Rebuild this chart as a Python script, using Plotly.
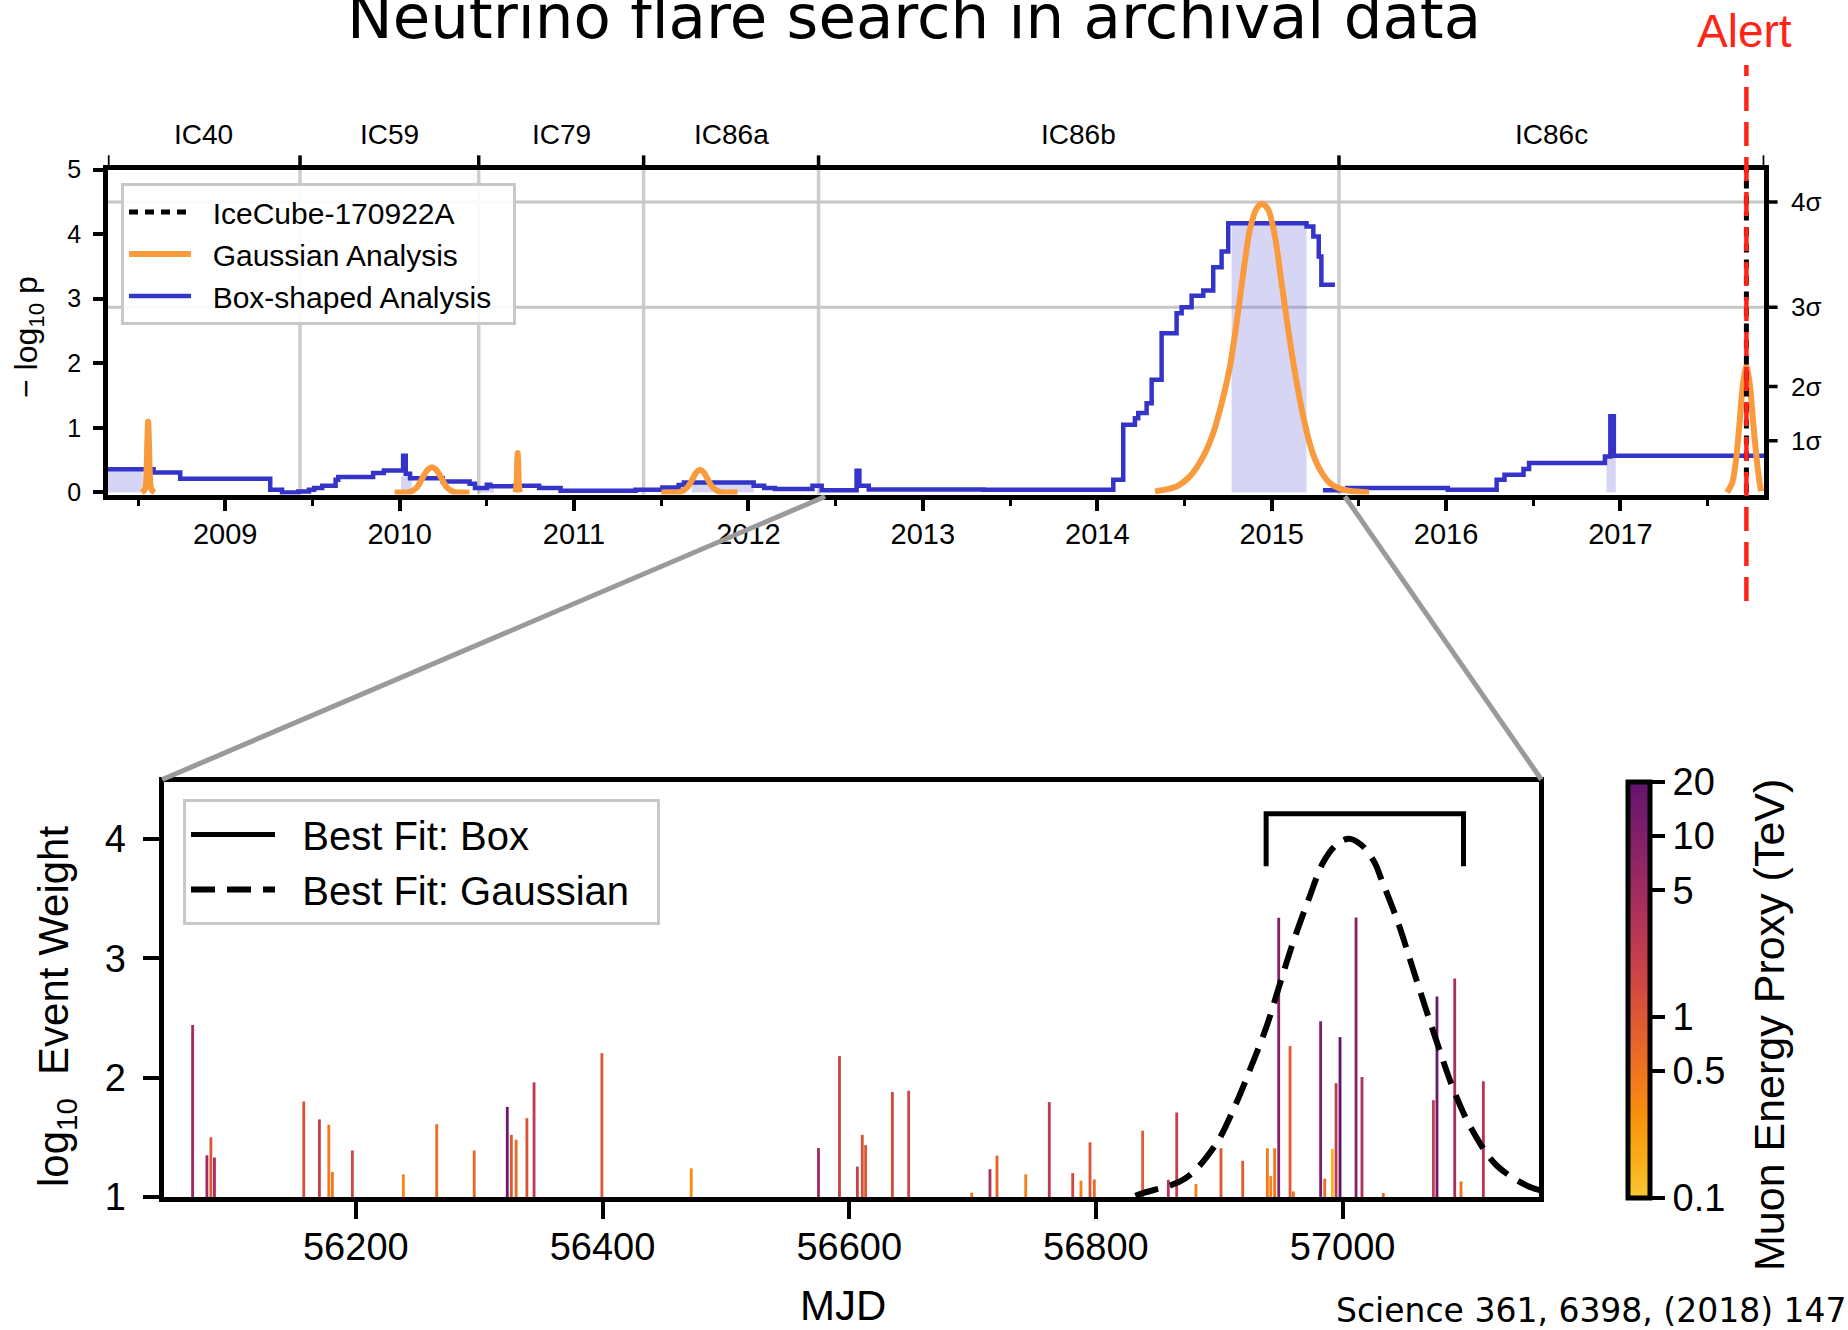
import numpy as np
import plotly.graph_objects as go

W, H = 1848, 1330
FONT = "Liberation Sans, Arial, Helvetica, sans-serif"
SLIDE_FONT = "DejaVu Sans, Verdana, sans-serif"
NB = "\u00a0"

# ------------------------------------------------------------------ top panel
# detector seasons (decimal year edges) and their names
season_edges = [2008.327, 2009.429, 2010.4535, 2011.399, 2012.402, 2015.386, 2017.825]
season_names = ["IC40", "IC59", "IC79", "IC86a", "IC86b", "IC86c"]
year_ticks = [2009, 2010, 2011, 2012, 2013, 2014, 2015, 2016, 2017]

# box-shaped time-window search: -log10 p as a step function of time
box_year_a = [2008.327, 2008.589, 2008.742, 2009.258, 2009.326, 2009.418, 2009.480, 2009.510,
              2009.556, 2009.633, 2009.648, 2009.848, 2009.910, 2010.020, 2010.035, 2010.060,
              2010.247, 2010.401, 2010.432, 2010.500, 2010.520, 2010.662, 2010.800, 2010.923,
              2011.353, 2011.507, 2011.600, 2011.630, 2012.030, 2012.090, 2012.152, 2012.367,
              2012.420, 2012.620, 2012.636, 2012.690, 2013.350, 2014.092, 2014.149, 2014.216,
              2014.235, 2014.283, 2014.312, 2014.369, 2014.455, 2014.484, 2014.541, 2014.608,
              2014.665, 2014.713, 2014.751, 2015.200, 2015.239, 2015.270, 2015.285, 2015.363]
box_logp_a = [0.36, 0.31, 0.21, 0.04, 0.00, 0.016, 0.04, 0.068,
              0.104, 0.197, 0.238, 0.30, 0.341, 0.57, 0.29, 0.22,
              0.17, 0.135, 0.07, 0.12, 0.094, 0.104, 0.068, 0.026,
              0.04, 0.078, 0.114, 0.155, 0.104, 0.068, 0.052, 0.104,
              0.032, 0.336, 0.104, 0.045, 0.04, 0.197, 1.048, 1.15,
              1.229, 1.383, 1.745, 2.467, 2.776, 2.870, 3.045, 3.128,
              3.489, 3.731, 4.170, 4.118, 3.963, 3.654, 3.215, 3.215]
box_year_b = [2015.294, 2015.434, 2016.010, 2016.290, 2016.335, 2016.444, 2016.476,
              2016.911, 2016.942, 2016.962, 2017.825]
box_logp_b = [0.032, 0.068, 0.042, 0.197, 0.274, 0.362, 0.455,
              0.558, 1.18, 0.568, 0.568]

# best-fit box windows (shaded)
win_start = [2008.327, 2010.008, 2010.447, 2011.675, 2014.770, 2016.920]
win_end = [2008.527, 2010.070, 2010.540, 2012.030, 2015.200, 2016.973]
win_logp = [0.36, 0.25, 0.08, 0.155, 4.17, 0.57]

# gaussian time-window search: one curve per candidate flare (None separates flares)
gauss_year = [2008.521, 2008.540, 2008.549, 2008.553, 2008.558, 2008.563, 2008.567, 2008.576, 2008.595, None,
              2009.971, 2010.06, 2010.10, 2010.13, 2010.16, 2010.186, 2010.21, 2010.24, 2010.27, 2010.31, 2010.401, None,
              2010.665, 2010.671, 2010.674, 2010.677, 2010.680, 2010.683, 2010.689, None,
              2011.501, 2011.61, 2011.65, 2011.68, 2011.70, 2011.722, 2011.745, 2011.765, 2011.795, 2011.835, 2011.937, None,
              2014.331, 2014.455, 2014.531, 2014.608, 2014.665, 2014.723, 2014.761, 2014.799, 2014.837, 2014.875,
              2014.914, 2014.946, 2014.981, 2015.019, 2015.057, 2015.095, 2015.134, 2015.181, 2015.229, 2015.277,
              2015.334, 2015.411, 2015.559, None,
              2017.612, 2017.642, 2017.662, 2017.682, 2017.702, 2017.722, 2017.742, 2017.762, 2017.782, 2017.795, 2017.806]
gauss_logp = [0.0, 0.05, 0.35, 0.75, 1.10, 0.75, 0.35, 0.05, 0.0, None,
              0.0, 0.01, 0.08, 0.22, 0.35, 0.39, 0.35, 0.22, 0.08, 0.01, 0.0, None,
              0.0, 0.15, 0.45, 0.61, 0.45, 0.15, 0.0, None,
              0.0, 0.01, 0.08, 0.21, 0.31, 0.35, 0.31, 0.21, 0.08, 0.01, 0.0, None,
              0.016, 0.093, 0.248, 0.558, 0.919, 1.487, 1.951, 2.622, 3.396, 4.067,
              4.40, 4.47, 4.376, 3.964, 3.241, 2.519, 1.848, 1.177, 0.661, 0.352,
              0.145, 0.042, 0.0, None,
              0.0, 0.16, 0.49, 1.05, 1.67, 1.95, 1.67, 1.05, 0.49, 0.2, 0.02]

alert_year = 2017.722
sigma_logp = [0.80, 1.64, 2.87, 4.50]
sigma_text = ["1σ", "2σ", "3σ", "4σ"]
sigma_grid = [2.87, 4.50]
zoom_top_years = [2012.44, 2015.42]

# --------------------------------------------------------------- bottom panel
ev_mjd = [56067.7, 56079.3, 56082.5, 56085.4, 56157.8, 56170.5, 56178.1, 56181.0, 56197.2, 56238.5,
          56265.6, 56296.0, 56322.8, 56326.1, 56330.0, 56338.7, 56344.5, 56399.5, 56471.9, 56575.1,
          56592.1, 56606.6, 56610.6, 56613.3, 56635.0, 56648.2, 56699.3, 56714.1, 56719.8, 56743.1,
          56762.2, 56781.2, 56787.9, 56795.2, 56798.7, 56837.9, 56858.7, 56865.5, 56881.1, 56901.4,
          56919.0, 56939.0, 56941.7, 56944.9, 56948.2, 56957.4, 56960.1, 56982.2, 56985.5, 56991.7,
          56994.7, 56997.9, 57010.9, 57015.7, 57033.0, 57073.6, 57076.5, 57090.9, 57096.0, 57114.1]
ev_logw = [2.44, 1.35, 1.50, 1.33, 1.80, 1.65, 1.605, 1.21, 1.39, 1.19,
           1.61, 1.39, 1.755, 1.52, 1.48, 1.66, 1.96, 2.205, 1.24, 1.41,
           2.18, 1.255, 1.52, 1.435, 1.88, 1.89, 1.036, 1.233, 1.347, 1.19,
           1.795, 1.20, 1.136, 1.458, 1.147, 1.555, 1.144, 1.708, 1.108, 1.408,
           1.303, 1.408, 1.175, 1.408, 3.339, 2.264, 1.047, 2.472, 1.153, 1.403,
           1.953, 2.339, 3.341, 2.005, 1.033, 1.811, 2.680, 2.830, 1.130, 1.969]
ev_energy_tev = [5, 5, 1.0, 4, 1.2, 2.0, 0.45, 0.45, 1.6, 0.35,
                 0.6, 0.7, 15, 1.0, 0.6, 1.1, 2.5, 1.0, 0.3, 5,
                 1.8, 2.0, 1.2, 1.0, 1.3, 1.5, 0.5, 3.5, 0.8, 0.4,
                 2.5, 1.5, 0.4, 1.0, 0.6, 0.9, 3.0, 2.0, 0.4, 1.0,
                 0.9, 0.45, 0.35, 0.5, 9, 0.9, 0.5, 12, 0.6, 0.15,
                 2.5, 20, 9, 3.5, 0.6, 2.0, 15, 4, 0.5, 3.0]

# best-fit gaussian flare (dashed) and best-fit box window (bracket)
gfit_mjd = [56832, 56838, 56872, 56896.5, 56912.8, 56925, 56938.4, 56949.3, 56960.1, 56972.2,
            56984.4, 56995, 57005, 57015, 57026, 57031.7, 57045.2, 57056, 57066.8, 57078.4,
            57089.8, 57104.6, 57124.9, 57151.9, 57161]
gfit_logw = [1.01, 1.033, 1.152, 1.43, 1.764, 2.07, 2.43, 2.79, 3.14, 3.486,
             3.805, 3.95, 4.0, 3.95, 3.80, 3.653, 3.292, 2.944, 2.597, 2.236,
             1.903, 1.569, 1.264, 1.083, 1.055]
boxfit_mjd = [56938, 56938, 57098, 57098]
boxfit_logw = [3.77, 4.21, 4.21, 3.77]

zoom_mjd_range = [56044.7, 57159.5]
mjd_ticks = [56200, 56400, 56600, 56800, 57000]
zoom_year_ticks = [2012.5, 2013.0, 2013.5, 2014.0, 2014.5, 2015.0]
energy_ticks = [0.1, 0.5, 1, 5, 10, 20]

# ------------------------------------------------------------------- helpers
def px_x(p):
    return p / W


def px_y(p):
    return 1 - p / H


def year_to_mjd(y):
    return 51544.5 + (y - 2000.0) * 365.25


INFERNO = ['#000004', '#1b0c41', '#4a0c6b', '#781c6d', '#a52c60',
           '#cf4446', '#ed6925', '#fb9b06', '#f7d13d', '#fcffa4']


def inferno_at(f):
    pos = f * (len(INFERNO) - 1)
    i = min(int(pos), len(INFERNO) - 2)
    t = pos - i
    c0 = [int(INFERNO[i][k:k + 2], 16) for k in (1, 3, 5)]
    c1 = [int(INFERNO[i + 1][k:k + 2], 16) for k in (1, 3, 5)]
    return 'rgb(%d,%d,%d)' % tuple(round(a + (b - a) * t) for a, b in zip(c0, c1))


# truncated, reversed inferno: yellow at low energy, dark purple at high energy
energy_scale = [[s, inferno_at(0.87 - 0.59 * s)] for s in np.linspace(0, 1, 11)]

# plot-area geometry in pixels
TOP = dict(l=107.85, r=1764.35, t=169.6, b=494.5)
BOT = dict(l=164.25, r=1539.35, t=781.5, b=1197.0)
LW = 4.5
top_range = [season_edges[0], season_edges[-1]]
top_yrange = [-0.032, 5.0]
top_w = TOP['r'] - TOP['l']
top_h = TOP['b'] - TOP['t']

BLUE = '#3434c8'
ORANGE = '#f99a3c'
SHADE = 'rgba(120,115,220,0.30)'
RED = '#ff2418'

fig = go.Figure()

# shaded best-fit box windows
shade_x, shade_y = [], []
for s, e, v in zip(win_start, win_end, win_logp):
    shade_x += [s, s, e, e, s, None]
    shade_y += [0, v, v, 0, 0, None]
fig.add_trace(go.Scatter(x=shade_x, y=shade_y, mode='lines', fill='toself', fillcolor=SHADE,
                         line=dict(width=0), hoverinfo='skip', showlegend=False,
                         xaxis='x', yaxis='y'))

fig.add_trace(go.Scatter(x=box_year_a + [None] + box_year_b, y=box_logp_a + [None] + box_logp_b,
                         mode='lines', line=dict(color=BLUE, width=4.5, shape='hv'),
                         name=NB * 2 + 'Box-shaped Analysis' + NB * 2, legend='legend', legendrank=3,
                         xaxis='x', yaxis='y'))

fig.add_trace(go.Scatter(x=gauss_year, y=gauss_logp, mode='lines',
                         line=dict(color=ORANGE, width=6, shape='spline', smoothing=0.8),
                         name=NB * 2 + 'Gaussian Analysis', legend='legend', legendrank=2,
                         xaxis='x', yaxis='y'))

fig.add_trace(go.Scatter(x=[alert_year, alert_year], y=[0, 5.0], mode='lines',
                         line=dict(color='black', width=5, dash='9px,7px'),
                         name=NB * 2 + 'IceCube-170922A', legend='legend', legendrank=1,
                         xaxis='x', yaxis='y'))

# event weights coloured by muon energy proxy
fig.add_trace(go.Bar(x=ev_mjd, y=[w - 1 for w in ev_logw], base=1, width=2.3,
                     marker=dict(color=np.log10(ev_energy_tev), colorscale=energy_scale,
                                 cmin=np.log10(0.1), cmax=np.log10(20), line=dict(width=0),
                                 colorbar=dict(
                                     x=px_x(1628), xanchor='left', xpad=0,
                                     y=px_y(989.5), yanchor='middle', ypad=0,
                                     thicknessmode='pixels', thickness=22,
                                     lenmode='pixels', len=416,
                                     outlinewidth=5, outlinecolor='black',
                                     tickvals=np.log10(energy_ticks),
                                     ticktext=[('%g' % e) for e in energy_ticks],
                                     ticks='outside', ticklen=13, tickwidth=4, tickcolor='black',
                                     tickfont=dict(family=FONT, size=38, color='black'))),
                     showlegend=False, hoverinfo='skip', xaxis='x2', yaxis='y2'))

fig.add_trace(go.Scatter(x=boxfit_mjd, y=boxfit_logw, mode='lines',
                         line=dict(color='black', width=5),
                         name=NB * 2 + 'Best Fit: Box', legend='legend2', legendrank=1,
                         xaxis='x2', yaxis='y2'))

fig.add_trace(go.Scatter(x=gfit_mjd, y=gfit_logw, mode='lines',
                         line=dict(color='black', width=6, dash='24px,12px', shape='spline'),
                         name=NB * 2 + 'Best Fit: Gaussian' + NB * 2, legend='legend2', legendrank=2,
                         xaxis='x2', yaxis='y2'))

tick_common = dict(showgrid=False, zeroline=False, ticks='outside', tickcolor='black',
                   linecolor='black', automargin=False)

fig.update_layout(
    width=W, height=H, autosize=False,
    margin=dict(l=0, r=0, t=0, b=0, pad=0, autoexpand=False),
    paper_bgcolor='white', plot_bgcolor='white',
    font=dict(family=FONT, color='black'),
    xaxis=dict(domain=[px_x(TOP['l']), px_x(TOP['r'])], range=top_range, anchor='y',
               tickvals=year_ticks, ticktext=[str(y) for y in year_ticks],
               ticklen=12, tickwidth=3.5, tickfont=dict(size=29), ticklabelstandoff=-2,
               showline=True, mirror=True, linewidth=LW,
               minor=dict(tickmode='linear', tick0=2008.5, dtick=1, ticks='outside',
                          ticklen=7, tickwidth=3, tickcolor='black', showgrid=False),
               **tick_common),
    yaxis=dict(domain=[px_y(TOP['b']), px_y(TOP['t'])], range=top_yrange, anchor='x',
               tickvals=[0, 1, 2, 3, 4, 5], ticklen=10, tickwidth=3.5,
               tickfont=dict(size=25), ticklabelstandoff=7,
               showline=True, mirror=True, linewidth=LW, **tick_common),
    xaxis2=dict(domain=[px_x(BOT['l']), px_x(BOT['r'])], range=zoom_mjd_range, anchor='y2',
                tickvals=mjd_ticks, ticktext=[str(m) for m in mjd_ticks],
                ticklen=17, tickwidth=4, tickfont=dict(size=38),
                ticklabelstandoff=-4, showline=True, mirror=True, linewidth=LW, **tick_common),
    yaxis2=dict(domain=[px_y(BOT['b']), px_y(BOT['t'])], range=[1, 4.48], anchor='x2',
                tickvals=[1, 2, 3, 4], ticklen=17, tickwidth=4, tickfont=dict(size=38),
                ticklabelstandoff=9, showline=True, mirror=True, linewidth=LW, **tick_common),
    xaxis4=dict(overlaying='x2', anchor='y2', side='top', range=zoom_mjd_range,
                tickvals=[year_to_mjd(y) for y in zoom_year_ticks],
                ticktext=['%.1f' % y for y in zoom_year_ticks],
                ticks='outside', ticklen=17, tickwidth=4, tickcolor='black',
                tickfont=dict(size=38), ticklabelstandoff=19, automargin=False,
                showgrid=True, gridcolor='#bdbdbd', gridwidth=2, zeroline=False, showline=False,
                minor=dict(tickmode='linear', tick0=year_to_mjd(2012.5), dtick=365.25 / 12,
                           ticks='outside', ticklen=8, tickwidth=3, tickcolor='black',
                           showgrid=False)),
    legend=dict(x=px_x(121), y=px_y(183), xanchor='left', yanchor='top',
                bgcolor='rgba(255,255,255,0.9)', bordercolor='#c8c8c8', borderwidth=3,
                font=dict(size=30, family=FONT), itemwidth=62, traceorder='normal'),
    legend2=dict(x=px_x(183), y=px_y(799), xanchor='left', yanchor='top',
                 bgcolor='rgba(255,255,255,0.95)', bordercolor='#c8c8c8', borderwidth=3,
                 font=dict(size=40, family=FONT), itemwidth=84, traceorder='normal'),
    showlegend=True,
)

shapes = []
# season boundaries in the archival panel
for edge in season_edges[1:-1]:
    shapes.append(dict(type='line', xref='x', yref='y domain', x0=edge, x1=edge, y0=0, y1=1,
                       line=dict(color='#cdcdcd', width=3.5), layer='below'))
# season tick marks above the archival panel
for edge in season_edges:
    shapes.append(dict(type='line', xref='x', yref='y domain', x0=edge, x1=edge,
                       y0=1 + (LW / 2) / top_h, y1=1 + (LW / 2 + 12) / top_h,
                       line=dict(color='black', width=3.5), layer='above'))
# 3 sigma / 4 sigma reference lines
for lvl in sigma_grid:
    shapes.append(dict(type='line', xref='x domain', yref='y', x0=0, x1=1, y0=lvl, y1=lvl,
                       line=dict(color='#c6c6c6', width=3), layer='below'))
# significance ticks on the right-hand side
for lvl in sigma_logp:
    shapes.append(dict(type='line', xref='x domain', yref='y', y0=lvl, y1=lvl,
                       x0=1 + (LW / 2) / top_w, x1=1 + (LW / 2 + 11) / top_w,
                       line=dict(color='black', width=3.5), layer='above'))


# zoom connectors from the archival timeline to the detail panel
def top_year_to_px(yr):
    return TOP['l'] + (yr - top_range[0]) / (top_range[1] - top_range[0]) * top_w


for yr, corner in zip(zoom_top_years, [BOT['l'] - 2, BOT['r'] + 2]):
    shapes.append(dict(type='line', xref='paper', yref='paper',
                       x0=px_x(top_year_to_px(yr)), y0=px_y(TOP['b'] + 2),
                       x1=px_x(corner), y1=px_y(BOT['t'] - 2),
                       line=dict(color='#9a9a9a', width=5), layer='above'))
# alert time marker across the figure
shapes.append(dict(type='line', xref='x', yref='paper', x0=alert_year, x1=alert_year,
                   y0=px_y(601), y1=px_y(65), line=dict(color=RED, width=4.5, dash='24px,11px'),
                   layer='above'))
fig.update_layout(shapes=shapes)

annotations = [
    dict(text='Neutrino flare search in archival data', x=px_x(914), y=px_y(17),
         xref='paper', yref='paper', xanchor='center', yanchor='middle', showarrow=False,
         font=dict(family=SLIDE_FONT, size=61, color='black')),
    dict(text='Alert', x=px_x(1744), y=px_y(31), xref='paper', yref='paper',
         xanchor='center', yanchor='middle', showarrow=False,
         font=dict(family=FONT, size=46, color=RED)),
    dict(text='− log<sub>10</sub> p', x=px_x(28), y=px_y(337), xref='paper', yref='paper',
         xanchor='center', yanchor='middle', textangle=-90, showarrow=False,
         font=dict(family=FONT, size=32, color='black')),
    dict(text='log<sub>10</sub>  Event Weight', x=px_x(56), y=px_y(1007), xref='paper',
         yref='paper', xanchor='center', yanchor='middle', textangle=-90, showarrow=False,
         font=dict(family=FONT, size=42, color='black')),
    dict(text='MJD', x=px_x(843), y=px_y(1305), xref='paper', yref='paper',
         xanchor='center', yanchor='middle', showarrow=False,
         font=dict(family=FONT, size=42, color='black')),
    dict(text='Muon Energy Proxy (TeV)', x=px_x(1769), y=px_y(1025), xref='paper',
         yref='paper', xanchor='center', yanchor='middle', textangle=-90, showarrow=False,
         font=dict(family=FONT, size=43, color='black')),
    dict(text='Science 361, 6398, (2018) 147', x=px_x(1334), y=px_y(1310), xref='paper',
         yref='paper', xanchor='left', yanchor='middle', showarrow=False,
         font=dict(family=SLIDE_FONT, size=33, color='black')),
]
for name, a, b in zip(season_names, season_edges[:-1], season_edges[1:]):
    annotations.append(dict(text=name, x=(a + b) / 2, y=px_y(134.5), xref='x', yref='paper',
                            xanchor='center', yanchor='middle', showarrow=False,
                            font=dict(family=FONT, size=28, color='black')))
for lvl, txt in zip(sigma_logp, sigma_text):
    annotations.append(dict(text=txt, x=1 + (1789 - TOP['r']) / top_w, y=lvl,
                            xref='x domain', yref='y', xanchor='left', yanchor='middle',
                            showarrow=False, font=dict(family=FONT, size=26, color='black')))
fig.update_layout(annotations=annotations)

fig.write_html("out.html")
